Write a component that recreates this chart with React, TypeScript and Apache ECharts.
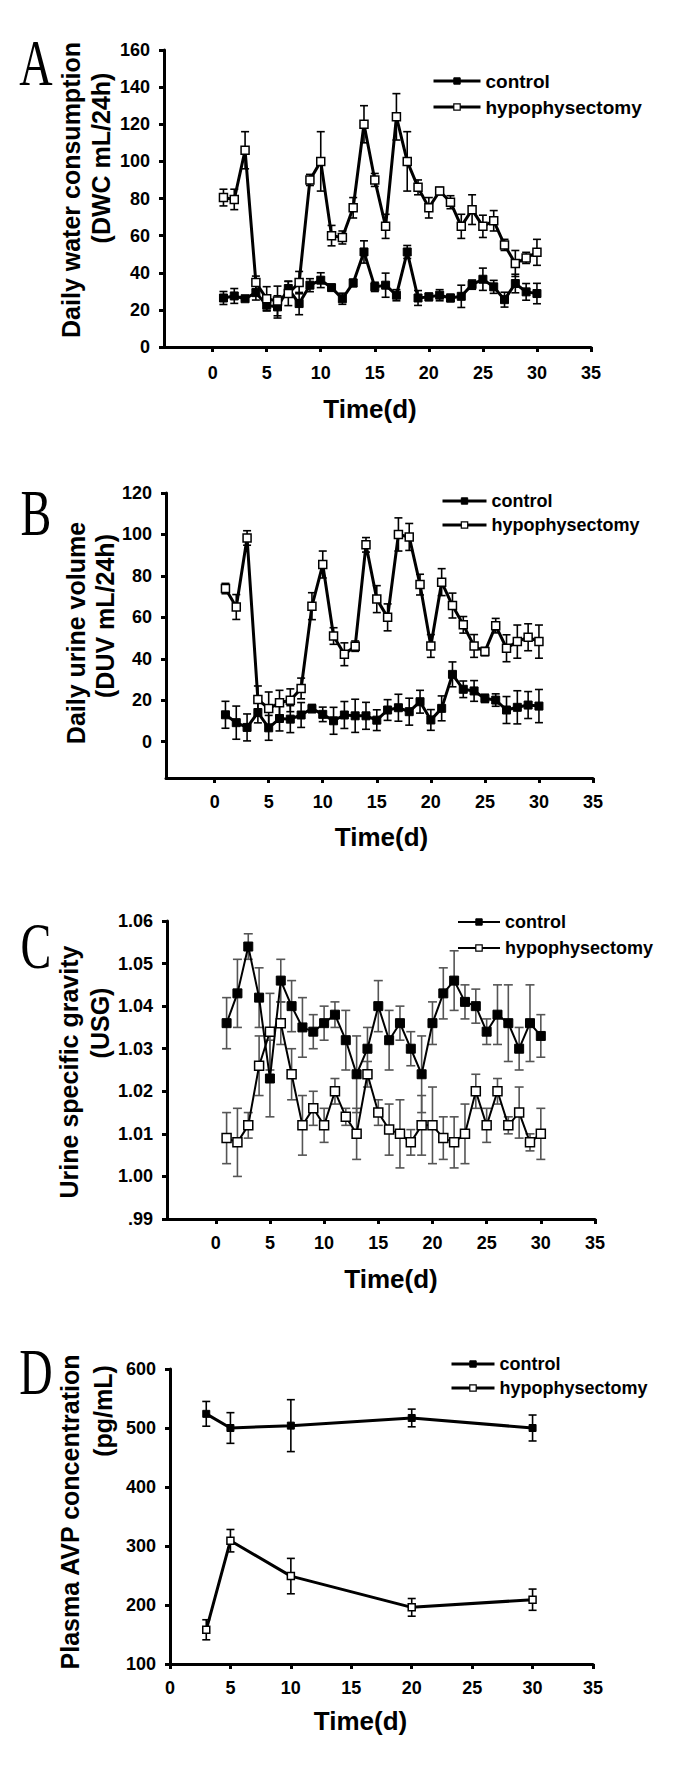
import React, { useEffect, useRef } from "react";
import * as echarts from "echarts";

// ---------- data ----------
const days = [1, 2, 3, 4, 5, 6, 7, 8, 9, 10, 11, 12, 13, 14, 15, 16, 17, 18, 19, 20, 21, 22, 23, 24, 25, 26, 27, 28, 29, 30];
const dayTicks = [0, 5, 10, 15, 20, 25, 30, 35];

// A: daily water consumption (mL/24h)
const dwcTicks = [0, 20, 40, 60, 80, 100, 120, 140, 160];
const dwcControl = [26.4, 27.5, 26, 29.3, 22.5, 21.6, 31.5, 23.4, 33.3, 36, 32, 26, 34.5, 51.2, 32.4, 33.3, 27.9, 51.2, 26.4, 27, 27.9, 26.4, 27.3, 33.6, 36.5, 32.4, 25.5, 34.2, 29.7, 28.8];
const dwcControlErr = [3.5, 4, 1, 4, 3, 6, 4, 6, 3.5, 4, 1.5, 3, 2, 6, 2.5, 6.5, 3, 3.5, 4, 2, 3, 2, 6, 2.5, 6, 3.5, 4, 5, 4.5, 5.5];
const dwcHypo = [80.5, 79.5, 106, 34.7, 26, 24.8, 28.8, 34.7, 90, 100, 60, 59, 75, 120, 90, 65, 124, 100, 86, 75, 84, 78, 65, 74, 65, 68, 55, 45, 48, 51];
const dwcHypoErr = [4.5, 5.5, 10, 3.5, 6.5, 8, 6.5, 6, 3, 16, 5.5, 3.5, 5.5, 10, 3.5, 6.5, 12.5, 16, 4, 5.5, 2, 3.5, 6.5, 8, 6, 5.5, 3, 7, 3, 7];

// B: daily urine volume (mL/24h)
const duvTicks = [0, 20, 40, 60, 80, 100, 120];
const duvControl = [13, 9.2, 6.9, 14.1, 6.7, 11.2, 10.9, 12.9, 16, 13.2, 10.1, 12.9, 12.5, 12.5, 10.4, 15.3, 16.4, 14.5, 19.3, 10.5, 16.1, 32.5, 25.3, 24.5, 20.9, 20.1, 15.3, 16.6, 17.7, 17.2];
const duvControlErr = [6.5, 8, 6.5, 5, 6, 6, 6.5, 6, 2, 3.5, 6.5, 6.5, 8, 6.5, 5, 5, 6.5, 6.5, 5.5, 5, 6, 6, 4, 5, 2, 3, 6.5, 8, 6.5, 8];
const duvHypo = [73.9, 65, 98.3, 20.4, 16, 18.8, 20, 25.7, 65.4, 85.5, 51, 42.2, 46.1, 95, 68.8, 60, 100, 98.8, 75.8, 46.2, 77, 65.7, 56.4, 46.2, 43.5, 56, 45.1, 48.3, 50.4, 48.3];
const duvHypoErr = [2.5, 6, 3.5, 6.5, 8, 6, 5.5, 5, 6.5, 6.5, 4, 5.5, 2.5, 3.5, 6.5, 6.5, 8, 6.5, 5, 5.5, 6.5, 6, 4, 5.5, 2, 3.5, 6.5, 8, 6.5, 8];

// C: urine specific gravity
const usgTicks = [0.99, 1.0, 1.01, 1.02, 1.03, 1.04, 1.05, 1.06];
const usgControl = [1.036, 1.043, 1.054, 1.042, 1.023, 1.046, 1.04, 1.035, 1.034, 1.036, 1.038, 1.032, 1.024, 1.03, 1.04, 1.032, 1.036, 1.03, 1.024, 1.036, 1.043, 1.046, 1.041, 1.04, 1.034, 1.038, 1.036, 1.03, 1.036, 1.033];
const usgControlErr = [0.006, 0.008, 0.003, 0.007, 0.009, 0.005, 0.006, 0.007, 0.004, 0.004, 0.003, 0.007, 0.009, 0.005, 0.006, 0.007, 0.004, 0.004, 0.009, 0.005, 0.006, 0.007, 0.004, 0.004, 0.003, 0.007, 0.009, 0.005, 0.009, 0.005];
const usgHypo = [1.009, 1.008, 1.012, 1.026, 1.034, 1.036, 1.024, 1.012, 1.016, 1.012, 1.02, 1.014, 1.01, 1.024, 1.015, 1.011, 1.01, 1.008, 1.012, 1.012, 1.009, 1.008, 1.01, 1.02, 1.012, 1.02, 1.012, 1.015, 1.008, 1.01];
const usgHypoErr = [0.006, 0.008, 0.003, 0.007, 0.009, 0.005, 0.006, 0.007, 0.004, 0.004, 0.003, 0.002, 0.006, 0.003, 0.003, 0.006, 0.008, 0.003, 0.007, 0.009, 0.005, 0.006, 0.007, 0.004, 0.004, 0.003, 0.002, 0.006, 0.002, 0.006];

// D: plasma AVP concentration (pg/mL)
const avpDays = [3, 5, 10, 20, 30];
const avpTicks = [100, 200, 300, 400, 500, 600];
const avpControl = [524, 500, 504, 517, 500];
const avpControlErr = [21, 26, 44, 15, 22];
const avpHypo = [158, 309, 249, 196, 209];
const avpHypoErr = [17, 19, 30, 15, 18];

const seriesNames = ["control", "hypophysectomy"];
const panelLetters = ["A", "B", "C", "D"];
const yTitles = [
  ["Daily water consumption", "(DWC mL/24h)"],
  ["Daily urine volume", "(DUV mL/24h)"],
  ["Urine specific gravity", "(USG)"],
  ["Plasma AVP concentration", "(pg/mL)"],
];
const xTitle = "Time(d)";

// ---------- helpers ----------
const SANS = "'Liberation Sans', Arial, Helvetica, sans-serif";
const SERIF = "'Liberation Serif', 'Times New Roman', serif";

function pairs(xs: number[], ys: number[]) {
  return xs.map((x, i) => [x, ys[i]]);
}
function errData(xs: number[], ys: number[], es: number[]) {
  return xs.map((x, i) => [x, ys[i] - es[i], ys[i] + es[i]]);
}

function errRender(capHalf: number, color: string, width: number) {
  return (params: any, api: any) => {
    const x = api.value(0);
    const lo = api.value(1);
    const hi = api.value(2);
    const t = api.coord([x, hi]);
    const b = api.coord([x, lo]);
    const style = { stroke: color, lineWidth: width, fill: "none" };
    return {
      type: "group",
      children: [
        { type: "line", shape: { x1: t[0], y1: t[1], x2: b[0], y2: b[1] }, style },
        { type: "line", shape: { x1: t[0] - capHalf, y1: t[1], x2: t[0] + capHalf, y2: t[1] }, style },
        { type: "line", shape: { x1: b[0] - capHalf, y1: b[1], x2: b[0] + capHalf, y2: b[1] }, style },
      ],
    };
  };
}

type Panel = {
  grid: { left: number; top: number; width: number; height: number };
  xMin: number;
  yMin: number;
  yMax: number;
  yTicks: number[];
  xs: number[];
  ctrl: number[];
  ctrlErr: number[];
  hypo: number[];
  hypoErr: number[];
  lineWidth: number;
  symbolSize: number;
  errColor: string;
  capHalf: number;
  legend: { left: number; top: number; itemWidth: number; itemGap: number; fontSize: number; lineWidth: number };
  xLabelMargin: number;
  nameGap: number;
  namePad: number[];
  yFormatter?: (v: number) => string;
};

const panels: Panel[] = [
  {
    grid: { left: 164, top: 50, width: 427, height: 297 },
    xMin: -4.5, yMin: 0, yMax: 160, yTicks: dwcTicks,
    xs: days, ctrl: dwcControl, ctrlErr: dwcControlErr, hypo: dwcHypo, hypoErr: dwcHypoErr,
    lineWidth: 3, symbolSize: 8, errColor: "#000", capHalf: 4,
    legend: { left: 427, top: 66, itemWidth: 47, itemGap: 6, fontSize: 19, lineWidth: 3 },
    xLabelMargin: 17, nameGap: 49, namePad: [0, 15, 0, 0],
  },
  {
    grid: { left: 166, top: 493, width: 427, height: 285 },
    xMin: -4.5, yMin: -17.5, yMax: 120, yTicks: duvTicks,
    xs: days, ctrl: duvControl, ctrlErr: duvControlErr, hypo: duvHypo, hypoErr: duvHypoErr,
    lineWidth: 3, symbolSize: 8, errColor: "#000", capHalf: 4,
    legend: { left: 436, top: 486, itemWidth: 44, itemGap: 4, fontSize: 18, lineWidth: 3 },
    xLabelMargin: 15, nameGap: 46, namePad: [0, 0, 0, 4],
  },
  {
    grid: { left: 167, top: 921, width: 428, height: 298 },
    xMin: -4.5, yMin: 0.99, yMax: 1.06, yTicks: usgTicks,
    xs: days, ctrl: usgControl, ctrlErr: usgControlErr, hypo: usgHypo, hypoErr: usgHypoErr,
    lineWidth: 2, symbolSize: 9, errColor: "#555", capHalf: 4.5,
    legend: { left: 452, top: 907, itemWidth: 42, itemGap: 6, fontSize: 18, lineWidth: 2 },
    xLabelMargin: 15, nameGap: 47, namePad: [0, 0, 0, 20],
    yFormatter: (v: number) => (v < 0.995 ? ".99" : v.toFixed(2)),
  },
  {
    grid: { left: 170, top: 1369, width: 423, height: 295 },
    xMin: 0, yMin: 100, yMax: 600, yTicks: avpTicks,
    xs: avpDays, ctrl: avpControl, ctrlErr: avpControlErr, hypo: avpHypo, hypoErr: avpHypoErr,
    lineWidth: 3, symbolSize: 7, errColor: "#000", capHalf: 4,
    legend: { left: 445, top: 1349, itemWidth: 43, itemGap: 4, fontSize: 18, lineWidth: 3 },
    xLabelMargin: 15, nameGap: 44, namePad: [0, 42, 0, 0],
  },
];

// letter + y-title placements (centres)
const letterPos = [
  [36, 62],
  [36, 512],
  [36, 945],
  [36, 1371],
];
const yTitlePos = [
  [[71, 190], [101, 158]],
  [[76, 633], [105, 616]],
  [[69, 1072], [100, 1023]],
  [[70, 1512], [103, 1411]],
];

function buildOption() {
  const grid: any[] = [];
  const xAxis: any[] = [];
  const yAxis: any[] = [];
  const series: any[] = [];
  const legend: any[] = [];
  const graphic: any[] = [];

  panels.forEach((p, i) => {
    grid.push({ ...p.grid, containLabel: false });
    xAxis.push({
      gridIndex: i,
      type: "value",
      min: p.xMin,
      max: 35,
      name: xTitle,
      nameLocation: "middle",
      nameGap: p.nameGap,
      nameTextStyle: { fontSize: 26, fontWeight: "bold", color: "#000", fontFamily: SANS, padding: p.namePad },
      axisLine: { show: true, onZero: false, lineStyle: { color: "#000", width: 3 } },
      axisTick: { show: true, length: 5, inside: false, customValues: dayTicks, lineStyle: { color: "#000", width: 3 } },
      axisLabel: { customValues: dayTicks, fontSize: 18, fontWeight: "bold", color: "#000", fontFamily: SANS, margin: p.xLabelMargin },
      splitLine: { show: false },
    });
    yAxis.push({
      gridIndex: i,
      type: "value",
      min: p.yMin,
      max: p.yMax,
      axisLine: { show: true, onZero: false, lineStyle: { color: "#000", width: 3 } },
      axisTick: { show: true, length: 5, customValues: p.yTicks, lineStyle: { color: "#000", width: 3 } },
      axisLabel: {
        customValues: p.yTicks,
        fontSize: 18,
        fontWeight: "bold",
        color: "#000",
        fontFamily: SANS,
        margin: 14,
        formatter: p.yFormatter ? p.yFormatter : (v: number) => String(Math.round(v)),
      },
      splitLine: { show: false },
    });

    const rend = errRender(p.capHalf, p.errColor, 1.6);
    series.push({
      type: "custom",
      name: "err-control-" + i,
      xAxisIndex: i,
      yAxisIndex: i,
      renderItem: rend,
      data: errData(p.xs, p.ctrl, p.ctrlErr),
      encode: { x: 0, y: [1, 2] },
      z: 1,
      silent: true,
    });
    series.push({
      type: "custom",
      name: "err-hypo-" + i,
      xAxisIndex: i,
      yAxisIndex: i,
      renderItem: rend,
      data: errData(p.xs, p.hypo, p.hypoErr),
      encode: { x: 0, y: [1, 2] },
      z: 1,
      silent: true,
    });
    series.push({
      type: "line",
      name: seriesNames[0],
      xAxisIndex: i,
      yAxisIndex: i,
      data: pairs(p.xs, p.ctrl),
      symbol: "rect",
      symbolSize: p.symbolSize,
      showAllSymbol: true,
      lineStyle: { color: "#000", width: p.lineWidth },
      itemStyle: { color: "#000", borderColor: "#000", borderWidth: 1 },
      z: 3,
    });
    series.push({
      type: "line",
      name: seriesNames[1],
      xAxisIndex: i,
      yAxisIndex: i,
      data: pairs(p.xs, p.hypo),
      symbol: "rect",
      symbolSize: p.symbolSize,
      showAllSymbol: true,
      lineStyle: { color: "#000", width: p.lineWidth },
      itemStyle: { color: "#fff", borderColor: "#000", borderWidth: 1.5 },
      z: 4,
    });

    legend.push({
      left: p.legend.left,
      top: p.legend.top,
      orient: "vertical",
      itemWidth: p.legend.itemWidth,
      itemHeight: 8,
      itemGap: p.legend.itemGap,
      selectedMode: false,
      textStyle: { fontSize: p.legend.fontSize, fontWeight: "bold", color: "#000", fontFamily: SANS, lineHeight: 20 },
      data: [
        { name: seriesNames[0], itemStyle: { color: "#000", borderColor: "#000", borderWidth: 1 }, lineStyle: { color: "#000", width: p.legend.lineWidth } },
        { name: seriesNames[1], itemStyle: { color: "#fff", borderColor: "#000", borderWidth: 1.2 }, lineStyle: { color: "#000", width: p.legend.lineWidth } },
      ],
    });

    graphic.push({
      type: "text",
      x: letterPos[i][0],
      y: letterPos[i][1],
      scaleX: 0.7,
      style: {
        text: panelLetters[i],
        font: "normal 66px " + SERIF,
        fill: "#000",
        textAlign: "center",
        textVerticalAlign: "middle",
      },
    });
    yTitles[i].forEach((t, k) => {
      graphic.push({
        type: "text",
        x: yTitlePos[i][k][0],
        y: yTitlePos[i][k][1],
        rotation: Math.PI / 2,
        style: {
          text: t,
          font: "bold 25px " + SANS,
          fill: "#000",
          textAlign: "center",
          textVerticalAlign: "middle",
        },
      });
    });
  });

  return {
    animation: false,
    backgroundColor: "#fff",
    grid,
    xAxis,
    yAxis,
    series,
    legend,
    graphic,
  };
}

export default function App() {
  const ref = useRef<HTMLDivElement>(null);
  useEffect(() => {
    document.body.style.margin = "0";
    const chart = echarts.init(ref.current as HTMLDivElement, undefined, { renderer: "svg" });
    chart.setOption(buildOption() as any);
    return () => chart.dispose();
  }, []);
  return <div ref={ref} style={{ width: 685, height: 1768, background: "#fff" }} />;
}
